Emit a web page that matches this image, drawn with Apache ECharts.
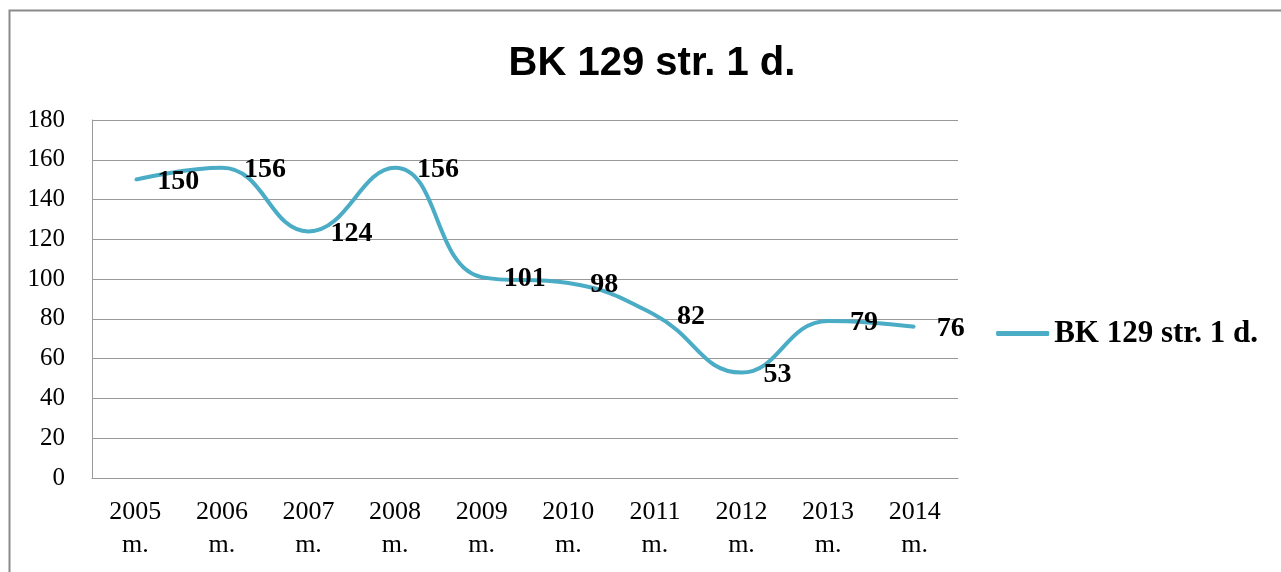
<!DOCTYPE html>
<html><head><meta charset="utf-8">
<script src="https://cdn.jsdelivr.net/npm/echarts@6/dist/echarts.min.js"></script>
<style>html,body{margin:0;padding:0;background:#fff}#c{width:1281px;height:572px}</style>
</head><body><div id="c"></div>
<script>
const categories = ['2005\nm.','2006\nm.','2007\nm.','2008\nm.','2009\nm.','2010\nm.','2011\nm.','2012\nm.','2013\nm.','2014\nm.'];
const values = [150,156,124,156,101,98,82,53,79,76];
const seriesName = 'BK 129 str. 1 d.';
const titleText = 'BK 129 str. 1 d.';
const chart = echarts.init(document.getElementById('c'));
chart.setOption({
  animation:false,
  backgroundColor:'#fff',
  graphic:[{type:'rect',left:7,top:8,shape:{width:1300,height:600},style:{fill:'none',stroke:'#8a8a8a',lineWidth:2},silent:true}],
  title:{text:titleText,left:647,textAlign:'center',top:39,textStyle:{fontFamily:'Liberation Sans',fontWeight:'bold',fontSize:40,color:'#000'}},
  legend:{right:18,top:313,orient:'vertical',itemWidth:53,itemHeight:5,icon:'roundRect',
    itemStyle:{color:'#4BACC6',opacity:1},
    textStyle:{fontFamily:'Liberation Serif',fontWeight:'bold',fontSize:31,color:'#000'}},
  grid:{left:92,right:323,top:120,bottom:94,containLabel:false},
  xAxis:{type:'category',data:categories,boundaryGap:true,
    axisLine:{show:true,lineStyle:{color:'#999',width:1}},axisTick:{show:false},
    axisLabel:{fontFamily:'Liberation Serif',fontSize:26,color:'#000',lineHeight:33,margin:18}},
  yAxis:{type:'value',min:0,max:180,interval:20,
    axisLine:{show:true,lineStyle:{color:'#999',width:1}},axisTick:{show:false},
    splitLine:{lineStyle:{color:'#999',width:1}},
    axisLabel:{fontFamily:'Liberation Serif',fontSize:25,color:'#000',margin:27}},
  series:[{name:seriesName,type:'line',data:values,smooth:0.45,symbol:'circle',symbolSize:2,showSymbol:true,
    lineStyle:{color:'#4BACC6',width:4},itemStyle:{color:'#4BACC6'},
    label:{show:true,position:'right',distance:21,offset:[0,2],fontFamily:'Liberation Serif',fontWeight:'bold',fontSize:28,color:'#000'}}]
});
</script></body></html>
